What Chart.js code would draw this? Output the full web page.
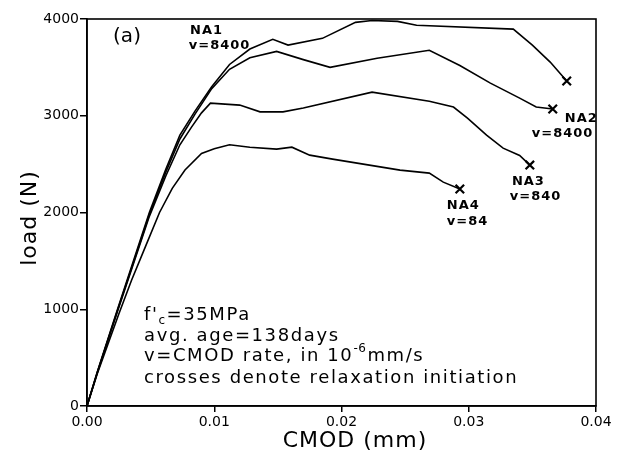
<!DOCTYPE html>
<html>
<head>
<meta charset="utf-8">
<script src="https://cdn.jsdelivr.net/npm/chart.js@4/dist/chart.umd.min.js"></script>
<style>
  html, body { margin: 0; padding: 0; background: #fff; }
</style>
</head>
<body>
<canvas id="loadChart" width="617" height="456"></canvas>
<script>
// CMOD (mm) and load (N) for each specimen
const na1Cmod = [0, 0.0008, 0.0024, 0.0049, 0.0062, 0.0073, 0.0085, 0.0098, 0.0112, 0.0128, 0.0146, 0.0158, 0.0185, 0.0211, 0.0224, 0.0244, 0.0259, 0.0335, 0.0350, 0.0364, 0.0377];
const na1Load = [0, 350, 1000, 2000, 2450, 2800, 3050, 3300, 3530, 3690, 3790, 3730, 3800, 3965, 3985, 3975, 3935, 3895, 3730, 3555, 3360];

const na2Cmod = [0, 0.0008, 0.0024, 0.0049, 0.0062, 0.0073, 0.0085, 0.0098, 0.0112, 0.0128, 0.0149, 0.0170, 0.0191, 0.0228, 0.0269, 0.0293, 0.0317, 0.0340, 0.0353, 0.0366];
const na2Load = [0, 340, 990, 1980, 2420, 2760, 3020, 3280, 3480, 3600, 3665, 3580, 3500, 3595, 3677, 3520, 3337, 3182, 3090, 3070];

const na3Cmod = [0, 0.0008, 0.0024, 0.0049, 0.0062, 0.0073, 0.0082, 0.0090, 0.0097, 0.0120, 0.0136, 0.0154, 0.0170, 0.0224, 0.0269, 0.0288, 0.0299, 0.0314, 0.0327, 0.0340, 0.0348];
const na3Load = [0, 340, 980, 1960, 2380, 2700, 2880, 3030, 3130, 3110, 3040, 3040, 3080, 3244, 3150, 3090, 2975, 2800, 2665, 2590, 2490];

const na4Cmod = [0, 0.0008, 0.0025, 0.0035, 0.0046, 0.0057, 0.0067, 0.0077, 0.0090, 0.0100, 0.0112, 0.0128, 0.0149, 0.0161, 0.0175, 0.0193, 0.0246, 0.0269, 0.0280, 0.0293];
const na4Load = [0, 330, 950, 1300, 1650, 2000, 2250, 2440, 2610, 2660, 2700, 2675, 2655, 2675, 2593, 2552, 2438, 2407, 2314, 2242];

const xTicks = [0, 0.01, 0.02, 0.03, 0.04];
const yTicks = [0, 1000, 2000, 3000, 4000];

// curve labels, placed in data coordinates (left edge, vertical centre)
const curveLabels = [
  { text: "NA1", x: 0.0081, y: 3884 },
  { text: "v=8400", x: 0.0080, y: 3729 },
  { text: "NA2", x: 0.03755, y: 2975 },
  { text: "v=8400", x: 0.03496, y: 2820 },
  { text: "NA3", x: 0.03339, y: 2314 },
  { text: "v=840", x: 0.03323, y: 2159 },
  { text: "NA4", x: 0.02828, y: 2066 },
  { text: "v=84", x: 0.02828, y: 1901 }
];

function toPoints(xs, ys) {
  return xs.map((x, i) => ({ x: x, y: ys[i] }));
}

function lineSet(label, xs, ys) {
  const last = xs.length - 1;
  return {
    label: label,
    data: toPoints(xs, ys),
    borderColor: "#000",
    borderWidth: 1.6,
    tension: 0,
    pointStyle: "crossRot",
    pointRadius: ctx => ctx.dataIndex === last ? 6 : 0,
    pointBorderWidth: 2.2,
    pointBorderColor: "#000",
    pointHoverRadius: 0
  };
}

function spaced(ctx, text, x, y, spacing) {
  ctx.letterSpacing = spacing + "px";
  ctx.fillText(text, x, y);
  const w = ctx.measureText(text).width;
  ctx.letterSpacing = "0px";
  return x + w;
}

const textPlugin = {
  id: "textPlugin",
  afterDraw(chart) {
    const ctx = chart.ctx;
    const area = chart.chartArea;
    const xs = chart.scales.x, ys = chart.scales.y;
    ctx.save();
    ctx.fillStyle = "#000";
    ctx.strokeStyle = "#000";

    // frame
    ctx.lineWidth = 1.6;
    ctx.strokeRect(area.left, area.top, area.right - area.left, area.bottom - area.top);

    // curve labels
    ctx.font = "bold 13px 'DejaVu Sans'";
    ctx.textBaseline = "middle";
    ctx.textAlign = "left";
    curveLabels.forEach(l => {
      spaced(ctx, l.text, xs.getPixelForValue(l.x), ys.getPixelForValue(l.y), 1);
    });

    // panel letter
    ctx.font = "20px 'DejaVu Sans'";
    ctx.textAlign = "center";
    ctx.fillText("(a)", 127, 37);
    ctx.textAlign = "left";

    // notes block
    const left = 144;
    const big = "18px 'DejaVu Sans'";
    const small = "12px 'DejaVu Sans'";
    ctx.font = big;
    let x = spaced(ctx, "f'", left, 315, 1.6);
    ctx.font = small;
    x = spaced(ctx, "c", x, 321, 0.5);
    ctx.font = big;
    spaced(ctx, "=35MPa", x + 1, 315, 1.6);

    spaced(ctx, "avg. age=138days", left, 336, 1.6);

    x = spaced(ctx, "v=CMOD rate, in 10", left, 356, 1.6);
    ctx.font = small;
    x = spaced(ctx, "-6", x, 349, 0.5);
    ctx.font = big;
    spaced(ctx, "mm/s", x + 1, 356, 1.6);

    spaced(ctx, "crosses denote relaxation initiation", left, 378, 1.6);

    // axis titles
    ctx.font = "22px 'DejaVu Sans'";
    ctx.textAlign = "center";
    ctx.letterSpacing = "1px";
    ctx.fillText("CMOD (mm)", 355, 441);
    ctx.translate(30, 218);
    ctx.rotate(-Math.PI / 2);
    ctx.fillText("load (N)", 0, 0);
    ctx.restore();
  }
};

const tickFont = { family: "DejaVu Sans", size: 14 };

new Chart(document.getElementById("loadChart"), {
  type: "line",
  data: {
    datasets: [
      lineSet("NA1", na1Cmod, na1Load),
      lineSet("NA2", na2Cmod, na2Load),
      lineSet("NA3", na3Cmod, na3Load),
      lineSet("NA4", na4Cmod, na4Load)
    ]
  },
  options: {
    responsive: false,
    animation: false,
    devicePixelRatio: 1,
    layout: { padding: { left: 0, top: 19, right: 21, bottom: 0 } },
    plugins: {
      legend: { display: false },
      tooltip: { enabled: false }
    },
    scales: {
      x: {
        type: "linear",
        min: 0,
        max: 0.04,
        afterBuildTicks: s => { s.ticks = xTicks.map(v => ({ value: v })); },
        afterFit: s => { s.height = 50; },
        ticks: {
          color: "#000",
          font: tickFont,
          padding: 2,
          maxRotation: 0,
          callback: v => v.toFixed(2)
        },
        grid: { drawOnChartArea: false, tickLength: 6, color: "#000", lineWidth: 1.5 },
        border: { color: "#000", width: 1.6 }
      },
      y: {
        type: "linear",
        min: 0,
        max: 4000,
        afterBuildTicks: s => { s.ticks = yTicks.map(v => ({ value: v })); },
        afterFit: s => { s.width = 87; },
        ticks: {
          color: "#000",
          font: tickFont,
          padding: 1,
          callback: v => String(v)
        },
        grid: { drawOnChartArea: false, tickLength: 7, color: "#000", lineWidth: 1.5 },
        border: { color: "#000", width: 1.6 }
      }
    }
  },
  plugins: [textPlugin]
});
</script>
</body>
</html>
